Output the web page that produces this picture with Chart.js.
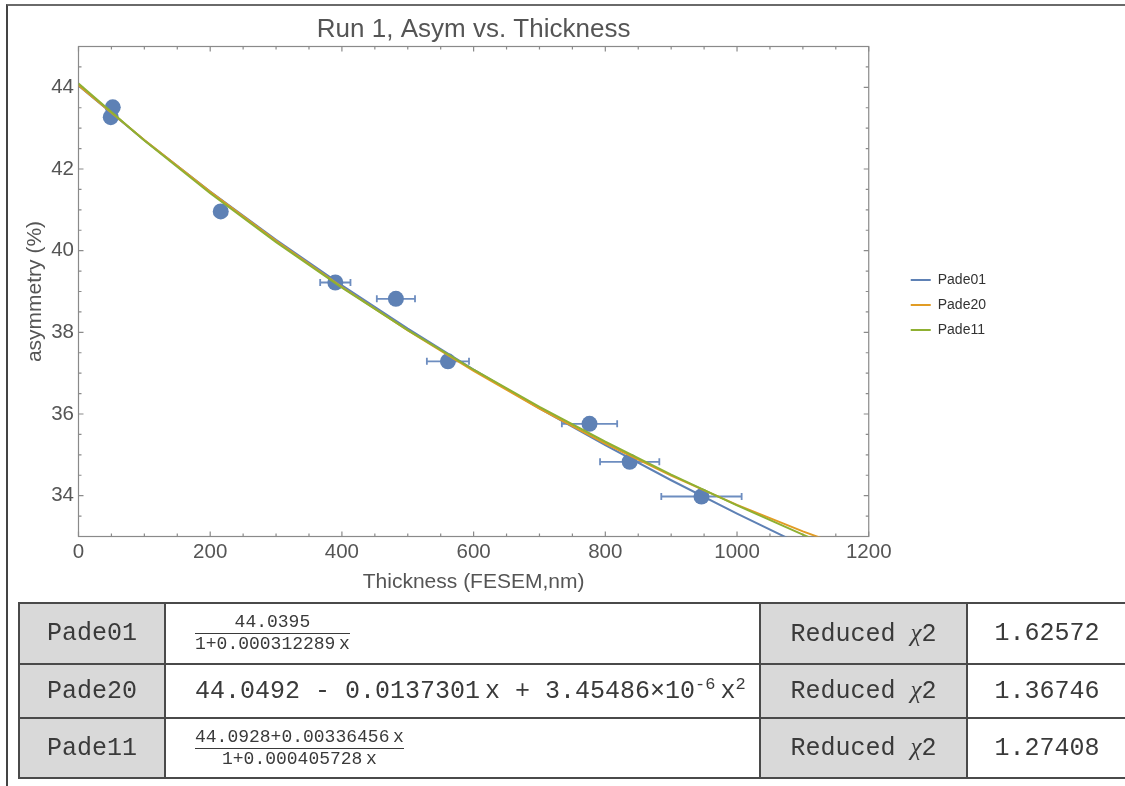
<!DOCTYPE html>
<html>
<head>
<meta charset="utf-8">
<script src="https://cdn.jsdelivr.net/npm/chart.js@4.4.1/dist/chart.umd.min.js"></script>
<style>
  html, body { margin: 0; padding: 0; background: #fff; }
  body { width: 1125px; height: 786px; position: relative; overflow: hidden; font-family: "Liberation Sans", Arial, sans-serif; }
  #frame { position: absolute; left: 6px; top: 4px; width: 1140px; height: 800px; border-top: 2px solid #6a6a6a; border-left: 2px solid #444; }
  #chart-wrap { position: absolute; left: 8px; top: 7px; width: 1000px; height: 596px; }
  #fit-table { position: absolute; left: 18px; top: 602px; border-collapse: collapse; table-layout: fixed; width: 1108px;
    font-family: "Liberation Mono", "Courier New", monospace; font-size: 25px; color: #3a3a3a; }
  #fit-table td { border: 2px solid #4a4a4a; padding: 0; white-space: nowrap; }
  #fit-table td.gray { background: #d9d9d9; text-align: center; }
  #fit-table td.formula { padding-left: 29px; }
  #fit-table td.val { text-align: center; }
  .chi { font-family: "Liberation Serif", serif; font-style: italic; }
  .frac { display: inline-block; vertical-align: middle; text-align: center; font-size: 18px; line-height: 19px; }
  .frac .num { display: block; padding-bottom: 1px; }
  .frac .den { display: block; border-top: 1.5px solid #3a3a3a; padding-top: 1px; }
  sup { font-size: 17px; vertical-align: 9px; line-height: 0; }
</style>
</head>
<body>
<div id="frame"></div>
<div id="chart-wrap"><canvas id="fit-chart"></canvas></div>
<table id="fit-table">
  <colgroup><col style="width:146px"><col style="width:595px"><col style="width:207px"><col style="width:160px"></colgroup>
  <tbody id="fit-rows"></tbody>
</table>
<script>
// measured points (thickness in nm, asymmetry in %)
const thickness = [52, 49, 216, 390, 482, 561, 776, 837, 946];
const asym = [43.51, 43.27, 40.96, 39.22, 38.82, 37.29, 35.76, 34.83, 33.98];
const thicknessErr = [3, 3, 6, 23, 29, 32, 42, 45, 61];

// fitted curves, sampled along x
const fitX = [0, 100, 200, 300, 400, 500, 600, 700, 800, 900, 1000, 1100, 1150];
const pade01Y = [44.0395, 42.7058, 41.4506, 40.2674, 39.1492, 38.0917, 37.0898, 36.1393, 35.2363, 34.3774, 33.5593, 32.7793, 32.4030];
const pade20Y = [44.0492, 42.7107, 41.4414, 40.2411, 39.1099, 38.0479, 37.0549, 36.1310, 35.2762, 34.4906, 33.7740, 33.1265, 32.8286];
const pade11Y = [44.0928, 42.6969, 41.4058, 40.2081, 39.0940, 38.0551, 37.0840, 36.1742, 35.3202, 34.5169, 33.7600, 33.0456, 32.7032];

const xTickValues = [0, 200, 400, 600, 800, 1000, 1200];
const yTickValues = [34, 36, 38, 40, 42, 44];

// table below the plot
const fitNames = ['Pade01', 'Pade20', 'Pade11'];
const fitFormulas = [
  '<span class="frac"><span class="num">44.0395</span><span class="den">1+0.000312289&#8201;x</span></span>',
  '44.0492 - 0.0137301&#8201;x + 3.45486&#215;10<sup>-6</sup>&#8201;x<sup>2</sup>',
  '<span class="frac"><span class="num">44.0928+0.00336456&#8201;x</span><span class="den">1+0.000405728&#8201;x</span></span>'
];
const reducedChi2 = ['1.62572', '1.36746', '1.27408'];
const rowHeights = [61, 54, 60];

const BLUE = '#5e81b5';
const ORANGE = '#e19c24';
const GREEN = '#8fb032';

function toPoints(xs, ys) {
  return xs.map((x, i) => ({ x: x, y: ys[i] }));
}

function buildTable() {
  const body = document.getElementById('fit-rows');
  fitNames.forEach((name, i) => {
    const tr = document.createElement('tr');
    tr.style.height = rowHeights[i] + 'px';
    tr.innerHTML = `
      <td class="gray">${name}</td>
      <td class="formula">${fitFormulas[i]}</td>
      <td class="gray">Reduced <span class="chi">&#967;</span>2</td>
      <td class="val">${reducedChi2[i]}</td>`;
    body.appendChild(tr);
  });
}

// Mathematica style frame with inward ticks on all four sides
const frameTicks = {
  id: 'frameTicks',
  beforeDatasetsDraw(chart) {
    const { ctx, chartArea: a, scales: { x, y } } = chart;
    ctx.save();
    ctx.strokeStyle = '#8a8a8a';
    ctx.lineWidth = 1.2;
    ctx.strokeRect(a.left, a.top, a.right - a.left, a.bottom - a.top);
    ctx.beginPath();
    for (let k = 0; k <= 24; k++) {
      const v = k * 50;
      const px = x.getPixelForValue(v);
      const len = xTickValues.includes(v) ? 5 : 3;
      ctx.moveTo(px, a.bottom); ctx.lineTo(px, a.bottom - len);
      ctx.moveTo(px, a.top); ctx.lineTo(px, a.top + len);
    }
    for (let k = 0; k <= 24; k++) {
      const v = 33 + k * 0.5;
      const py = y.getPixelForValue(v);
      const len = yTickValues.includes(v) ? 5 : 3;
      ctx.moveTo(a.left, py); ctx.lineTo(a.left + len, py);
      ctx.moveTo(a.right, py); ctx.lineTo(a.right - len, py);
    }
    ctx.stroke();
    ctx.restore();
  }
};

// horizontal error bars on the measured points
const errorBars = {
  id: 'errorBars',
  beforeDatasetsDraw(chart) {
    const { ctx, scales: { x, y } } = chart;
    ctx.save();
    ctx.strokeStyle = '#6d8dc0';
    ctx.lineWidth = 1.8;
    ctx.beginPath();
    thickness.forEach((t, i) => {
      const x0 = x.getPixelForValue(t - thicknessErr[i]);
      const x1 = x.getPixelForValue(t + thicknessErr[i]);
      const py = y.getPixelForValue(asym[i]);
      ctx.moveTo(x0, py); ctx.lineTo(x1, py);
      ctx.moveTo(x0, py - 3.5); ctx.lineTo(x0, py + 3.5);
      ctx.moveTo(x1, py - 3.5); ctx.lineTo(x1, py + 3.5);
    });
    ctx.stroke();
    ctx.restore();
  }
};

function curve(label, ys, color, order) {
  return {
    label: label,
    data: toPoints(fitX, ys),
    showLine: true,
    borderColor: color,
    backgroundColor: color,
    borderWidth: 2,
    pointRadius: 0,
    pointHoverRadius: 0,
    order: order
  };
}

document.addEventListener('DOMContentLoaded', () => {
  buildTable();

  const ctx = document.getElementById('fit-chart').getContext('2d');
  window.fitChart = new Chart(ctx, {
    type: 'scatter',
    data: {
      datasets: [
        curve('Pade01', pade01Y, BLUE, 3),
        curve('Pade20', pade20Y, ORANGE, 2),
        curve('Pade11', pade11Y, GREEN, 1),
        {
          label: 'data',
          data: toPoints(thickness, asym),
          backgroundColor: BLUE,
          borderWidth: 0,
          pointRadius: 8,
          order: 4
        }
      ]
    },
    options: {
      responsive: true,
      maintainAspectRatio: false,
      animation: false,
      layout: { padding: { right: 12 } },
      scales: {
        x: {
          type: 'linear',
          min: 0,
          max: 1200,
          grid: { display: false, drawTicks: false },
          border: { display: false },
          afterBuildTicks: s => { s.ticks = xTickValues.map(v => ({ value: v })); },
          afterFit: s => { s.height = 66.5; },
          ticks: {
            padding: 4,
            color: '#555',
            font: { family: 'Liberation Sans', size: 20.5 },
            callback: v => String(v)
          },
          title: {
            display: true,
            text: 'Thickness (FESEM,nm)',
            color: '#555',
            font: { family: 'Liberation Sans', size: 21 },
            padding: { top: 0, bottom: 8 }
          }
        },
        y: {
          type: 'linear',
          min: 33,
          max: 45,
          grid: { display: false, drawTicks: false },
          border: { display: false },
          afterBuildTicks: s => { s.ticks = yTickValues.map(v => ({ value: v })); },
          afterFit: s => { s.width = 70.5; },
          ticks: {
            padding: 4.5,
            color: '#555',
            font: { family: 'Liberation Sans', size: 20.5 },
            callback: v => String(v)
          },
          title: {
            display: true,
            text: 'asymmetry (%)',
            color: '#555',
            font: { family: 'Liberation Sans', size: 21 },
            padding: { top: 14.5, bottom: 0 }
          }
        },
        y2: {
          type: 'linear',
          position: 'right',
          display: true,
          grid: { display: false, drawTicks: false },
          border: { display: false },
          ticks: { display: false },
          afterFit: s => { s.width = 31; }
        }
      },
      plugins: {
        title: {
          display: true,
          text: 'Run 1, Asym vs. Thickness',
          fullSize: false,
          color: '#555',
          font: { family: 'Liberation Sans', size: 26, weight: 'normal' },
          padding: { top: 7.4, bottom: 0.9 }
        },
        legend: {
          position: 'right',
          labels: {
            usePointStyle: true,
            pointStyle: 'line',
            pointStyleWidth: 20,
            padding: 11,
            color: '#333',
            font: { family: 'Liberation Sans', size: 14 },
            filter: item => item.text !== 'data',
            sort: (a, b) => a.datasetIndex - b.datasetIndex
          }
        },
        tooltip: { enabled: false }
      }
    },
    plugins: [frameTicks, errorBars]
  });
});
</script>
</body>
</html>
